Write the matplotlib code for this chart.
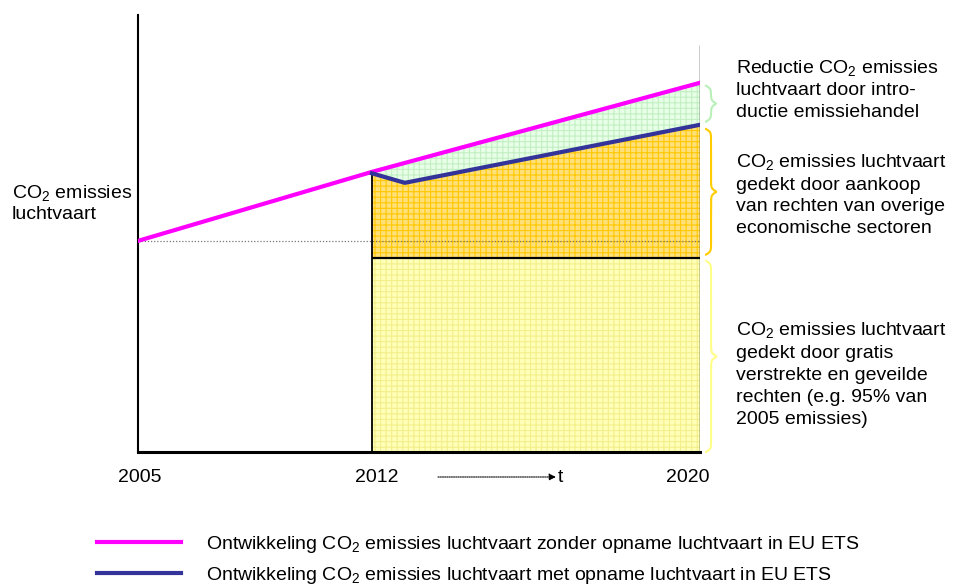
import numpy as np
import matplotlib
matplotlib.use('Agg')
import matplotlib.pyplot as plt
import matplotlib.transforms as mtransforms

plt.rcParams['font.family'] = ['Liberation Sans', 'DejaVu Sans']
plt.rcParams['mathtext.fontset'] = 'custom'
plt.rcParams['mathtext.rm'] = 'Liberation Sans'
plt.rcParams['mathtext.it'] = 'Liberation Sans'
plt.rcParams['hatch.linewidth'] = 0.8

FS = 14

# schematic values (2005 emissions = 100)
years = [2005, 2012, 2020]
year_labels = ['2005', '2012', '2020']
zonder_x = [2005, 2012, 2020]
zonder_y = [100, 132.7, 174.9]
met_x = [2012, 2012.8, 2020]
met_y = [132, 127.5, 155]
gratis = 92          # gratis verstrekte + geveilde rechten
basis_2005 = 100
top_2020 = 193

tekst_reductie = 'Reductie CO$_2$ emissies\nluchtvaart door intro-\nductie emissiehandel'
tekst_aankoop = ('CO$_2$ emissies luchtvaart\ngedekt door aankoop\n'
                 'van rechten van overige\neconomische sectoren')
tekst_gratis = ('CO$_2$ emissies luchtvaart\ngedekt door gratis\nverstrekte en geveilde\n'
                'rechten (e.g. 95% van\n2005 emissies)')
legend_labels = ['Ontwikkeling CO$_2$ emissies luchtvaart zonder opname luchtvaart in EU ETS',
                 'Ontwikkeling CO$_2$ emissies luchtvaart met opname luchtvaart in EU ETS']


def fwd(x):
    x = np.asarray(x, dtype=float)
    return np.where(x <= 2012, (x - 2005) / 7 * 234, 234 + (x - 2012) / 8 * 328)


def inv(p):
    p = np.asarray(p, dtype=float)
    return np.where(p <= 234, 2005 + p / 234 * 7, 2012 + (p - 234) / 328 * 8)


def brace(ax, y0, y1, color, beta=1.4, x0=1.0107, w=0.018):
    n = 200
    yy = np.linspace(y0, y1, n)
    half = np.linspace(0, (y1 - y0) / 2, n // 2)
    s = 1 / (1 + np.exp(-beta * (half - half[0]))) + 1 / (1 + np.exp(-beta * (half - half[-1])))
    s = np.concatenate([s, s[::-1]])
    xx = x0 + w * (s - 0.5)
    trans = mtransforms.blended_transform_factory(ax.transAxes, ax.transData)
    ax.plot(xx, yy, color=color, lw=1.5, transform=trans, clip_on=False)


fig = plt.figure(figsize=(9.56, 5.87), dpi=100)
ax = fig.add_axes([138 / 956, 135 / 587, 562 / 956, 437 / 587])
ax.set_xscale('function', functions=(fwd, inv))
ax.set_xlim(2005, 2020)
ax.set_ylim(0, 207)

# gebieden
ax.fill([2012, 2020, 2020, 2012], [0, 0, gratis, gratis], facecolor='#ffffb8',
        edgecolor='#f3ef8c', hatch='+++', linewidth=0, zorder=1)
ax.fill([2012, 2020] + met_x[::-1], [gratis, gratis] + met_y[::-1], facecolor='#ffe07a',
        edgecolor='#ffc800', hatch='+++', linewidth=0, zorder=1)
ax.fill(met_x + zonder_x[:0:-1], met_y + zonder_y[:0:-1], facecolor='#e6ffe6',
        edgecolor='#c4efc4', hatch='+++', linewidth=0, zorder=1)

ax.hlines(basis_2005, 2005, 2020, colors='#777777', linestyles=(0, (1, 1.5)), lw=0.9, zorder=2)
ax.hlines(gratis, 2012, 2020, colors='black', lw=1.6, zorder=3)
ax.vlines(2012, 0, met_y[0], colors='black', lw=1.3, zorder=3)
ax.vlines(2020, 0, top_2020, colors='black', lw=1.0, zorder=3)

l1, = ax.plot(zonder_x, zonder_y, color='#ff00ff', lw=3, zorder=4, label=legend_labels[0])
l2, = ax.plot(met_x, met_y, color='#333399', lw=3, zorder=5, label=legend_labels[1])

for side in ['top', 'right']:
    ax.spines[side].set_visible(False)
ax.spines['left'].set_linewidth(1.5)
ax.spines['bottom'].set_linewidth(2.2)
ax.set_yticks([])
ax.set_xticks([])

# jaartallen onder de as (kleine verschuiving zoals in het origineel)
xt = mtransforms.blended_transform_factory(ax.transData, ax.transAxes)
for yr, lab, dx in zip(years, year_labels, [2, 5, -12]):
    off = mtransforms.ScaledTranslation(dx / 100, 0, fig.dpi_scale_trans)
    ax.text(yr, -26 / 437, lab, transform=xt + off, fontsize=FS, ha='center', va='center')

# tijdpijl
ax.annotate('', xy=(418 / 562, -25 / 437), xytext=(300 / 562, -25 / 437),
            xycoords='axes fraction', textcoords='axes fraction',
            arrowprops=dict(arrowstyle='-|>', linestyle=(0, (1, 1)), lw=0.8, color='black',
                            mutation_scale=10, shrinkA=0, shrinkB=0))
ax.text(420 / 562, -25 / 437, 't', transform=ax.transAxes, fontsize=FS, ha='left', va='center')

# accolades en tekst rechts
brace(ax, 156.5, 173.5, '#b8f0b8')
brace(ax, 93.5, 153, '#ffcc00')
brace(ax, 0, 90.5, '#ffff88')

tr = mtransforms.blended_transform_factory(ax.transAxes, ax.transData)
kw = dict(transform=tr, fontsize=FS, ha='left', va='center', linespacing=1.37)
ax.text(1.064, 171.8, tekst_reductie, **kw)
ax.text(1.064, 122, tekst_aankoop, **kw)
ax.text(1.064, 37, tekst_gratis, **kw)
ax.text(-0.224, 118, 'CO$_2$ emissies\nluchtvaart', **dict(kw, linespacing=1.2))

fig.legend(handles=[l1, l2], loc='upper left', bbox_to_anchor=(97 / 956, 1 - 534 / 587),
           frameon=False, fontsize=FS, handlelength=4.3, handletextpad=1.29,
           labelspacing=0.5, borderpad=0, borderaxespad=0)

fig.savefig('out.png', dpi=100)
